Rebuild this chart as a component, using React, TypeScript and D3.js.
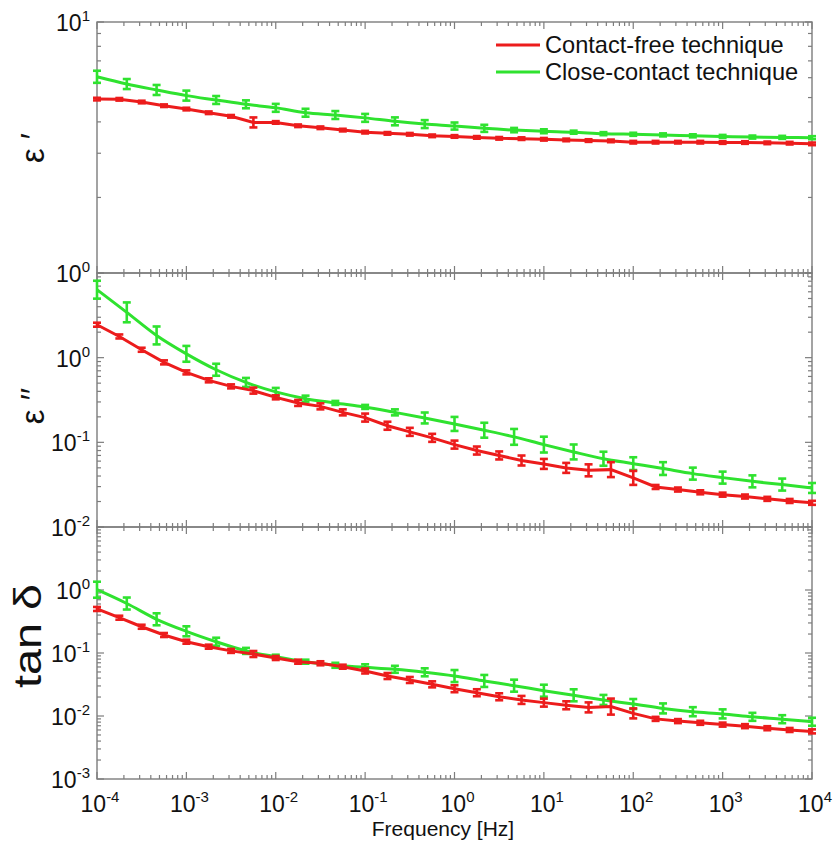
import React from "react";
import * as d3 from "d3";

// ---------- data ----------
const freqRed = [1e-4, 1.778e-4, 3.162e-4, 5.623e-4, 1e-3, 1.778e-3, 3.162e-3, 5.623e-3, 1e-2, 1.778e-2, 3.162e-2, 5.623e-2, 1e-1, 1.778e-1, 3.162e-1, 5.623e-1, 1, 1.778, 3.162, 5.623, 10, 17.78, 31.62, 56.23, 100, 177.8, 316.2, 562.3, 1000, 1778, 3162, 5623, 10000];
const freqGreen = [1e-4, 2.154e-4, 4.642e-4, 1e-3, 2.154e-3, 4.642e-3, 1e-2, 2.154e-2, 4.642e-2, 0.1, 0.2154, 0.4642, 1, 2.154, 4.642, 10, 21.54, 46.42, 100, 215.4, 464.2, 1000, 2154, 4642, 10000];

// epsilon'
const epsRealRed = [4.93, 4.92, 4.80, 4.64, 4.50, 4.35, 4.21, 3.98, 3.98, 3.86, 3.79, 3.71, 3.64, 3.60, 3.57, 3.52, 3.50, 3.47, 3.44, 3.43, 3.41, 3.39, 3.37, 3.36, 3.32, 3.32, 3.32, 3.32, 3.31, 3.31, 3.30, 3.29, 3.27];
const epsRealGreen = [6.05, 5.66, 5.36, 5.09, 4.89, 4.70, 4.55, 4.35, 4.26, 4.15, 4.02, 3.92, 3.85, 3.77, 3.71, 3.67, 3.64, 3.59, 3.57, 3.55, 3.52, 3.50, 3.48, 3.47, 3.46];
const epsRealRedErr = [0.012, 0.012, 0.012, 0.012, 0.012, 0.012, 0.012, 0.047, 0.012, 0.012, 0.012, 0.012, 0.012, 0.012, 0.012, 0.012, 0.012, 0.012, 0.012, 0.012, 0.012, 0.012, 0.012, 0.012, 0.012, 0.012, 0.012, 0.012, 0.012, 0.012, 0.012, 0.012, 0.012];
const epsRealGreenErr = [0.057, 0.047, 0.047, 0.047, 0.037, 0.037, 0.037, 0.037, 0.037, 0.037, 0.037, 0.037, 0.033, 0.033, 0.02, 0.018, 0.014, 0.014, 0.014, 0.014, 0.014, 0.014, 0.014, 0.014, 0.014];

// epsilon''
const epsImagRed = [2.45, 1.78, 1.24, 0.88, 0.67, 0.54, 0.458, 0.408, 0.340, 0.292, 0.266, 0.226, 0.196, 0.157, 0.133, 0.113, 0.094, 0.080, 0.070, 0.061, 0.0556, 0.0499, 0.0467, 0.0476, 0.038, 0.0297, 0.0277, 0.0257, 0.0241, 0.0229, 0.0215, 0.0203, 0.0193];
const epsImagGreen = [6.35, 3.43, 1.83, 1.11, 0.72, 0.51, 0.394, 0.328, 0.292, 0.262, 0.226, 0.194, 0.165, 0.139, 0.116, 0.094, 0.077, 0.064, 0.056, 0.049, 0.0427, 0.0383, 0.0346, 0.0317, 0.0289];
const epsImagRedErr = [0.056, 0.056, 0.056, 0.056, 0.056, 0.056, 0.056, 0.085, 0.056, 0.085, 0.085, 0.085, 0.115, 0.115, 0.115, 0.115, 0.115, 0.115, 0.115, 0.145, 0.145, 0.145, 0.177, 0.225, 0.209, 0.056, 0.056, 0.056, 0.056, 0.056, 0.056, 0.056, 0.056];
const epsImagGreenErr = [0.276, 0.31, 0.276, 0.24, 0.177, 0.13, 0.115, 0.085, 0.056, 0.056, 0.085, 0.16, 0.21, 0.225, 0.24, 0.24, 0.225, 0.21, 0.19, 0.19, 0.177, 0.177, 0.177, 0.177, 0.145];

// tan delta
const tanRed = [0.50, 0.363, 0.261, 0.193, 0.151, 0.126, 0.108, 0.0964, 0.0833, 0.0728, 0.0687, 0.0606, 0.0518, 0.0431, 0.0373, 0.0318, 0.0271, 0.0234, 0.0202, 0.0180, 0.0163, 0.0148, 0.0137, 0.0141, 0.0110, 0.0090, 0.0083, 0.0078, 0.0073, 0.0069, 0.0064, 0.0060, 0.0057];
const tanGreen = [1.01, 0.61, 0.343, 0.221, 0.151, 0.108, 0.0873, 0.0728, 0.0638, 0.0593, 0.0551, 0.0494, 0.0431, 0.0360, 0.0303, 0.0252, 0.0213, 0.0180, 0.0155, 0.0132, 0.0117, 0.0108, 0.0097, 0.0089, 0.0081];
const tanRedErr = [0.076, 0.076, 0.076, 0.076, 0.076, 0.076, 0.076, 0.116, 0.076, 0.076, 0.076, 0.076, 0.095, 0.116, 0.116, 0.116, 0.136, 0.136, 0.136, 0.157, 0.157, 0.157, 0.2, 0.34, 0.2, 0.076, 0.076, 0.076, 0.076, 0.076, 0.076, 0.076, 0.076];
const tanGreenErr = [0.34, 0.245, 0.245, 0.2, 0.157, 0.116, 0.076, 0.076, 0.095, 0.116, 0.136, 0.157, 0.245, 0.245, 0.245, 0.245, 0.245, 0.2, 0.2, 0.2, 0.18, 0.18, 0.157, 0.157, 0.157];

const seriesNames = ["Contact-free technique", "Close-contact technique"];
const xTickExps = [-4, -3, -2, -1, 0, 1, 2, 3, 4];
const xLabel = "Frequency [Hz]";

// ---------- layout ----------
const W = 833;
const H = 848;
const L = 97;
const R = 812;
const FONT = "'Liberation Sans', Arial, Helvetica, sans-serif";
const RED = "#ec1c1c";
const GREEN = "#2fe22f";
const AXIS = "#7d7d7d";

const x = d3.scaleLog().domain([1e-4, 1e4]).range([L, R]);

type Panel = {
  top: number;
  bottom: number;
  domain: [number, number];
  red: number[];
  green: number[];
  redErr: number[];
  greenErr: number[];
  labelExps: number[];
  title: string;
  titleX: number;
  titleY: number;
  titleSize: number;
  titleStretch: number;
};

const panels: Panel[] = [
  { top: 22, bottom: 273, domain: [1, 10], red: epsRealRed, green: epsRealGreen, redErr: epsRealRedErr, greenErr: epsRealGreenErr, labelExps: [1, 0], title: "ε ′", titleX: 44, titleY: 148, titleSize: 33, titleStretch: 1 },
  { top: 273, bottom: 527, domain: [1e-2, 10], red: epsImagRed, green: epsImagGreen, redErr: epsImagRedErr, greenErr: epsImagGreenErr, labelExps: [0, -1, -2], title: "ε ′′", titleX: 44, titleY: 406, titleSize: 33, titleStretch: 1 },
  { top: 527, bottom: 779, domain: [1e-3, 10], red: tanRed, green: tanGreen, redErr: tanRedErr, greenErr: tanGreenErr, labelExps: [0, -1, -2, -3], title: "tan δ", titleX: 41, titleY: 636, titleSize: 39, titleStretch: 1.2 },
];

function Pow10({ exp, xPos, yPos, anchor }: { exp: number; xPos: number; yPos: number; anchor: string }) {
  return (
    <text x={xPos} y={yPos} textAnchor={anchor} fontFamily={FONT} fontSize={23} fill="#111">
      10
      <tspan dy={-10} fontSize={15}>{String(exp)}</tspan>
    </text>
  );
}

function PanelView({ p }: { p: Panel }) {
  const y = d3.scaleLog().domain(p.domain).range([p.bottom, p.top]);
  const redLine = d3
    .line<number>()
    .x((_, i) => x(freqRed[i]))
    .y((d) => y(d))
    .curve(d3.curveLinear);
  const greenLine = d3
    .line<number>()
    .x((_, i) => x(freqGreen[i]))
    .y((d) => y(d))
    .curve(d3.curveMonotoneX);

  const ticks: JSX.Element[] = [];
  // x ticks
  for (let e = -4; e <= 4; e++) {
    for (let k = 1; k <= 9; k++) {
      if (e === 4 && k > 1) break;
      const v = k * Math.pow(10, e);
      const xp = x(v);
      const len = k === 1 ? 7 : 4;
      ticks.push(<line key={`xt${e}${k}`} x1={xp} x2={xp} y1={p.top} y2={p.top + len} stroke={AXIS} strokeWidth={1.2} />);
      ticks.push(<line key={`xb${e}${k}`} x1={xp} x2={xp} y1={p.bottom} y2={p.bottom - len} stroke={AXIS} strokeWidth={1.2} />);
    }
  }
  // y ticks
  const e0 = Math.round(Math.log10(p.domain[0]));
  const e1 = Math.round(Math.log10(p.domain[1]));
  for (let e = e0; e <= e1; e++) {
    for (let k = 1; k <= 9; k++) {
      if (e === e1 && k > 1) break;
      const v = k * Math.pow(10, e);
      const yp = y(v);
      const len = k === 1 ? 7 : 4;
      ticks.push(<line key={`yl${e}${k}`} x1={L} x2={L + len} y1={yp} y2={yp} stroke={AXIS} strokeWidth={1.2} />);
      ticks.push(<line key={`yr${e}${k}`} x1={R} x2={R - len} y1={yp} y2={yp} stroke={AXIS} strokeWidth={1.2} />);
    }
  }

  const errBars = (fr: number[], vals: number[], errs: number[], color: string, pre: string) =>
    vals.map((v, i) => {
      const xp = x(fr[i]);
      const lo = y(v / (1 + errs[i]));
      const hi = y(v * (1 + errs[i]));
      return (
        <g key={`${pre}${i}`} stroke={color} strokeWidth={2.6} fill="none">
          <line x1={xp} x2={xp} y1={lo} y2={hi} />
          <line x1={xp - 4} x2={xp + 4} y1={lo} y2={lo} />
          <line x1={xp - 4} x2={xp + 4} y1={hi} y2={hi} />
        </g>
      );
    });

  return (
    <g>
      <rect x={L} y={p.top} width={R - L} height={p.bottom - p.top} fill="none" stroke={AXIS} strokeWidth={1.4} />
      {ticks}
      <path d={greenLine(p.green) || ""} fill="none" stroke={GREEN} strokeWidth={3} />
      {errBars(freqGreen, p.green, p.greenErr, GREEN, "g")}
      <path d={redLine(p.red) || ""} fill="none" stroke={RED} strokeWidth={3} />
      {errBars(freqRed, p.red, p.redErr, RED, "r")}
      {p.labelExps.map((e) => (
        <Pow10 key={`yl${e}`} exp={e} xPos={90} yPos={y(Math.pow(10, e)) + 9} anchor="end" />
      ))}
      <text
        transform={`translate(${p.titleX},${p.titleY}) rotate(-90) scale(${p.titleStretch},1)`}
        textAnchor="middle"
        fontFamily={FONT}
        fontSize={p.titleSize}
        fill="#111"
      >
        {p.title}
      </text>
    </g>
  );
}

export default function App() {
  return (
    <svg width={W} height={H} style={{ display: "block", position: "absolute", left: 0, top: 0, background: "#fff" }}>
      <rect x={0} y={0} width={W} height={H} fill="#fff" />
      {panels.map((p, i) => (
        <PanelView key={i} p={p} />
      ))}
      {xTickExps.map((e) => (
        <Pow10 key={`xl${e}`} exp={e} xPos={x(Math.pow(10, e)) + 3} yPos={812} anchor="middle" />
      ))}
      <text x={443} y={836} textAnchor="middle" fontFamily={FONT} fontSize={21} fill="#111">
        {xLabel}
      </text>
      {/* legend */}
      <line x1={496} x2={540} y1={45} y2={45} stroke={RED} strokeWidth={3} />
      <text x={545} y={53} fontFamily={FONT} fontSize={23.6} fill="#111">{seriesNames[0]}</text>
      <line x1={496} x2={540} y1={72} y2={72} stroke={GREEN} strokeWidth={3} />
      <text x={545} y={80} fontFamily={FONT} fontSize={23.6} fill="#111">{seriesNames[1]}</text>
    </svg>
  );
}
